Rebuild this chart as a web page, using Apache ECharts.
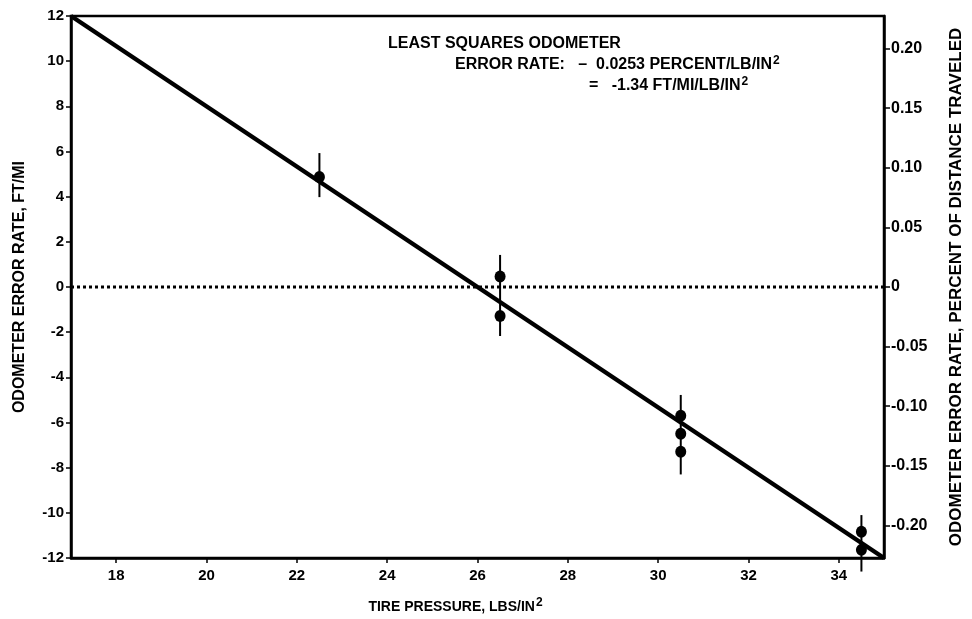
<!DOCTYPE html>
<html>
<head>
<meta charset="utf-8">
<script src="https://cdn.jsdelivr.net/npm/echarts@6/dist/echarts.min.js"></script>
<style>
  html, body { margin: 0; padding: 0; background: #fff; }
  #chart { width: 972px; height: 619px; }
</style>
</head>
<body>
<div id="chart"></div>
<script>
// tire pressure of each measurement group
const pressures = [22.5, 26.5, 26.5, 30.5, 30.5, 30.5, 34.5, 34.5];
// odometer error rate, ft/mi
const errorRates = [4.87, 0.46, -1.28, -5.7, -6.5, -7.3, -10.84, -11.64];
// error bars: pressure, low, high
const barX = [22.5, 26.5, 30.5, 34.5];
const barLow = [3.98, -2.17, -8.3, -12.6];
const barHigh = [5.93, 1.42, -4.78, -10.1];
// least squares fit line end points
const fitX = [17, 35];
const fitY = [12, -12];
const xTicks = [18, 20, 22, 24, 26, 28, 30, 32, 34];
const pctTicks = [-0.20, -0.15, -0.10, -0.05, 0, 0.05, 0.10, 0.15, 0.20];

const FT_TO_PCT = 100 / 5280;
const font = '"Liberation Sans", Arial, sans-serif';
const supRich = {
  s: { fontSize: 12, fontWeight: 'bold', lineHeight: 12, verticalAlign: 'top', padding: [0, 0, 0, 1], fill: '#000', color: '#000', fontFamily: font }
};

function note(text, left, top) {
  return {
    type: 'text', left: left, top: top,
    style: { text: text, font: 'bold 16px ' + font, lineHeight: 20, fill: '#000', rich: supRich }
  };
}

let myChart = echarts.init(document.getElementById('chart'));

myChart.setOption({
  animation: false,
  backgroundColor: '#fff',
  textStyle: { fontFamily: font },
  grid: {
    left: 71, right: 88, top: 16, bottom: 61,
    outerBoundsMode: 'none',
    show: true, borderColor: '#000', borderWidth: 2.5
  },
  xAxis: {
    type: 'value',
    min: 17, max: 35,
    name: 'TIRE PRESSURE, LBS/IN{s|2}',
    nameLocation: 'middle',
    nameGap: 39,
    nameTextStyle: {
      color: '#000', fontSize: 14, fontWeight: 'bold', fontFamily: font, lineHeight: 20,
      padding: [0, 44, 0, 0], rich: supRich
    },
    axisLine: { onZero: false, lineStyle: { color: '#000', width: 2.5 } },
    axisTick: { customValues: xTicks, length: 5, lineStyle: { color: '#000', width: 1.5 } },
    axisLabel: { customValues: xTicks, color: '#000', fontSize: 15, fontWeight: 'bold', margin: 10 },
    splitLine: { show: false }
  },
  yAxis: [
    {
      type: 'value',
      min: -12, max: 12, interval: 2,
      name: 'ODOMETER ERROR RATE, FT/MI',
      nameLocation: 'middle',
      nameGap: 43,
      nameTextStyle: { color: '#000', fontSize: 16, fontWeight: 'bold' },
      axisLine: { show: true, onZero: false, lineStyle: { color: '#000', width: 2.5 } },
      axisTick: { show: true, length: 5, lineStyle: { color: '#000', width: 1.5 } },
      axisLabel: { color: '#000', fontSize: 15, fontWeight: 'bold', margin: 7 },
      splitLine: { show: false }
    },
    {
      type: 'value',
      position: 'right',
      min: -12 * FT_TO_PCT, max: 12 * FT_TO_PCT,
      name: 'ODOMETER ERROR RATE, PERCENT OF DISTANCE TRAVELED',
      nameLocation: 'middle',
      nameGap: 64,
      nameRotate: 90,
      nameTextStyle: { color: '#000', fontSize: 17, fontWeight: 'bold' },
      axisLine: { show: true, onZero: false, lineStyle: { color: '#000', width: 2.5 } },
      axisTick: { show: true, customValues: pctTicks, length: 6, lineStyle: { color: '#000', width: 1.5 } },
      axisLabel: {
        customValues: pctTicks, color: '#000', fontSize: 16, fontWeight: 'bold', margin: 7,
        formatter: v => Math.abs(v) < 1e-9 ? '0' : v.toFixed(2)
      },
      splitLine: { show: false }
    }
  ],
  graphic: [
    note('LEAST SQUARES ODOMETER', 388, 34),
    note('ERROR RATE:   \u2013  0.0253 PERCENT/LB/IN{s|2}', 455, 55),
    note('=   -1.34 FT/MI/LB/IN{s|2}', 589, 76)
  ],
  series: [
    {
      name: 'zero',
      type: 'line',
      data: [[17, 0], [35, 0]],
      symbol: 'none',
      lineStyle: { color: '#000', width: 3, type: [3, 3] },
      z: 1
    },
    {
      name: 'fit',
      type: 'line',
      data: fitX.map((x, i) => [x, fitY[i]]),
      symbol: 'none',
      lineStyle: { color: '#000', width: 4.5 },
      z: 3
    },
    {
      name: 'error bars',
      type: 'custom',
      clip: false,
      data: barX.map((x, i) => [x, barLow[i], barHigh[i]]),
      renderItem: function (params, api) {
        let lo = api.coord([api.value(0), api.value(1)]);
        let hi = api.coord([api.value(0), api.value(2)]);
        return {
          type: 'line',
          shape: { x1: lo[0], y1: lo[1], x2: hi[0], y2: hi[1] },
          style: { stroke: '#000', lineWidth: 2 }
        };
      },
      z: 4
    },
    {
      name: 'measured',
      type: 'scatter',
      data: pressures.map((x, i) => [x, errorRates[i]]),
      symbol: 'circle',
      symbolSize: [11, 12],
      itemStyle: { color: '#000', opacity: 1 },
      z: 5
    }
  ]
});
</script>
</body>
</html>
